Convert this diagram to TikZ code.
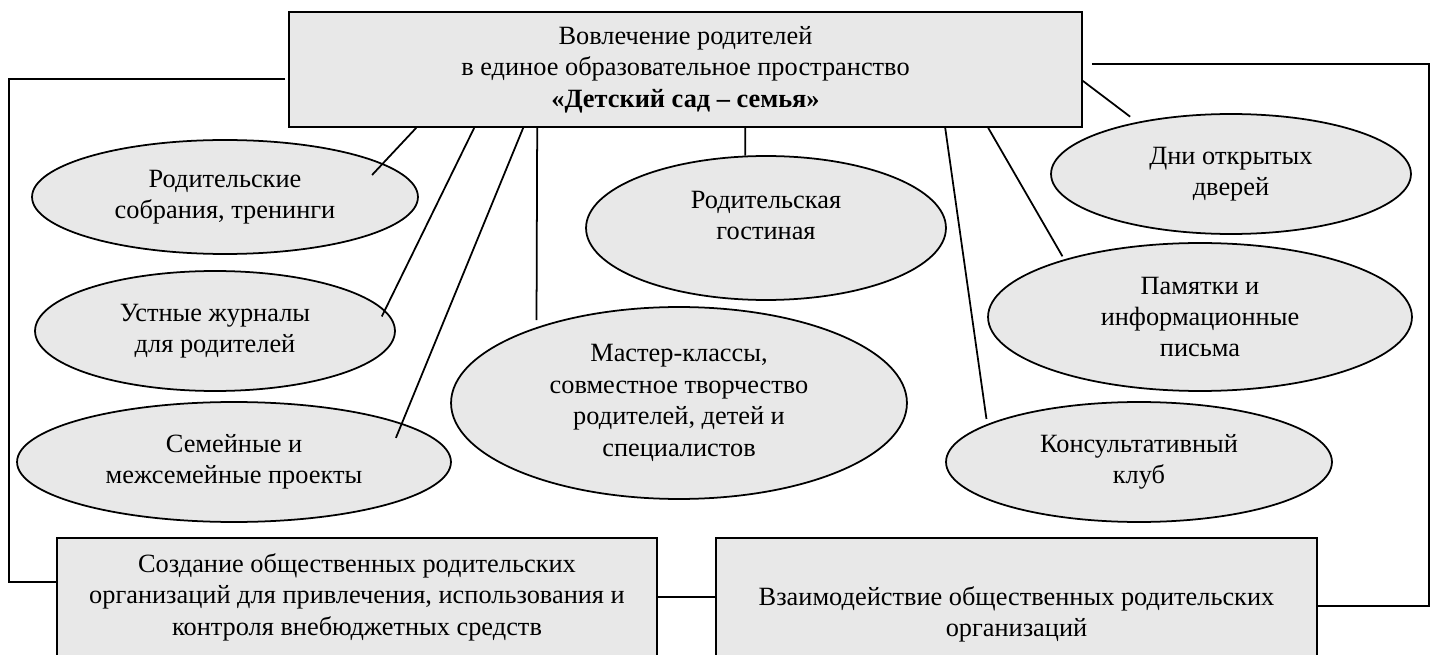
\documentclass[tikz,border=0pt]{standalone}
\usepackage{fontspec}
\setmainfont{Liberation Serif}
\definecolor{boxgray}{RGB}{232,232,232}
\tikzset{
every picture/.style={
line width=1pt
}}
\tikzset{
block/.style={draw, fill=boxgray, align=center, inner sep=0pt},
oval/.style={draw, fill=boxgray, ellipse, align=center, inner sep=0pt}
}
\usetikzlibrary{shapes.geometric}

\begin{document}
\begin{tikzpicture}[x=0.02cm, y=-0.02cm, font=\fontsize{15}{17.9}\selectfont]
\useasboundingbox (0,0) rectangle (1434,655);

% boxes
\node[block, minimum width=15.86cm, minimum height=2.3cm] (top) at (685.5,69.5) {Вовлечение родителей\\в единое образовательное пространство\\\textbf{«Детский сад – семья»}};
\node[block, minimum width=12cm, minimum height=2.36cm] (bl) at (357,597) {Создание общественных родительских\\организаций для привлечения, использования и\\контроля внебюджетных средств};
\node[block, minimum width=12.02cm, minimum height=2.36cm] (br) at (1016.5,597) {\strut\\Взаимодействие общественных родительских\\организаций};

% forms of work
\node[oval, minimum width=7.72cm, minimum height=2.28cm] (e1) at (225,197) {Родительские\\собрания, тренинги};
\node[oval, minimum width=7.2cm, minimum height=2.4cm] (e2) at (215,331) {Устные журналы\\для родителей};
\node[oval, minimum width=8.68cm, minimum height=2.4cm] (e3) at (234,462) {Семейные и\\межсемейные проекты};
\node[oval, minimum width=7.2cm, minimum height=2.88cm] (e4) at (766,228) {Родительская\\гостиная\\[-0.32cm]\strut};
\node[oval, minimum width=9.12cm, minimum height=3.84cm] (e5) at (679,403) {Мастер-классы,\\совместное творчество\\родителей, детей и\\специалистов};
\node[oval, minimum width=7.2cm, minimum height=2.4cm] (e6) at (1231,174) {Дни открытых\\дверей};
\node[oval, minimum width=8.48cm, minimum height=2.96cm] (e7) at (1200,317) {Памятки и\\информационные\\письма};
\node[oval, minimum width=7.72cm, minimum height=2.4cm] (e8) at (1139,462) {Консультативный\\клуб};

% links from the top box (offset along its bottom edge / anchor / shorten)
\foreach \dx/\e/\a/\s in {128/e1/12/-9pt, 186/e2/7/-4pt, 235/e3/13/-9pt, 249/e5/152/4pt, 457/e4/106/0pt, 657/e8/166/3pt, 700/e7/157/2pt}{
  \draw [shorten >=\s] (top.south west) ++(\dx,0) -- (\e.\a);
}
\draw [shorten >=5pt] (top.south east) ++(0,-47) -- (e6.151);

% frame round the picture
\draw ([xshift=-0.06cm, yshift=-0.19cm]top.west) -- ++(-276,0) |- ([yshift=-0.9cm]bl.north west);
\draw ([xshift=0.18cm, yshift=0.11cm]top.east) -- ++(337,0) |- ([yshift=-0.18cm]br.east);
\draw (bl.east) -- (br.west);
\end{tikzpicture}
\end{document}
